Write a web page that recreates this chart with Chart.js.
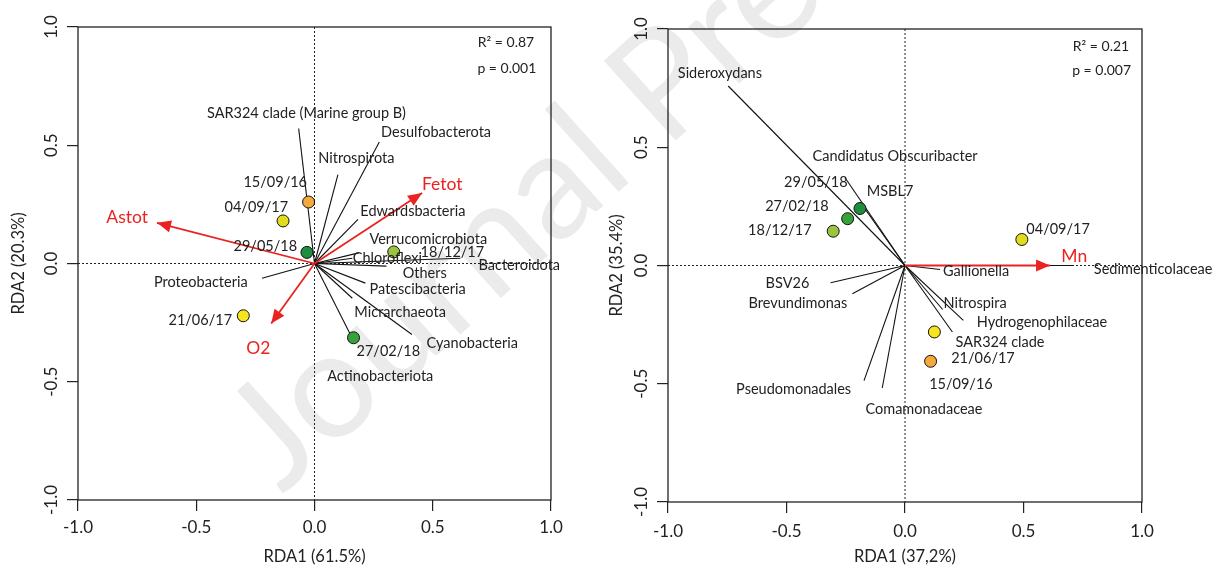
<!DOCTYPE html>
<html>
<head>
<meta charset="utf-8">
<script src="https://cdn.jsdelivr.net/npm/chart.js@4.4.1/dist/chart.umd.min.js"></script>
<style>
  html, body { margin: 0; padding: 0; background: #fff; }
  #wrap { position: relative; width: 1219px; height: 567px; overflow: hidden; }
  #mark {
    position: absolute; left: 282px; top: 362px;
    font: 150px Lato; line-height: 150px; color: #ebebeb;
    white-space: nowrap; transform-origin: 0 133px; transform: rotate(-42deg);
  }
  #left { position: absolute; left: 0; top: 0; }
  #right { position: absolute; left: 600px; top: 0; }
</style>
</head>
<body>
<div id="wrap">
  <div id="mark">Journal Pre-proof</div>
  <canvas id="left" width="600" height="567"></canvas>
  <canvas id="right" width="619" height="567"></canvas>
</div>
<script>
// ---- left panel (RDA1 61.5%, RDA2 20.3%) ----
const leftSites = ["15/09/16", "04/09/17", "29/05/18", "18/12/17", "21/06/17", "27/02/18"];
const leftSiteX = [-0.025, -0.133, -0.032, 0.335, -0.301, 0.165];
const leftSiteY = [0.26, 0.18, 0.047, 0.049, -0.221, -0.314];
const leftSiteLabelX = [-0.166, -0.246, -0.208, 0.583, -0.483, 0.312];
const leftSiteLabelY = [0.344, 0.238, 0.073, 0.048, -0.24, -0.371];

const leftTaxa = ["SAR324 clade (Marine group B)", "Desulfobacterota", "Nitrospirota", "Edwardsbacteria",
  "Verrucomicrobiota", "Chloroflexi", "Bacteroidota", "Others", "Proteobacteria", "Patescibacteria",
  "Micrarchaeota", "Cyanobacteria", "Actinobacteriota"];
const leftTaxaX = [-0.067, 0.274, 0.099, 0.184, 0.187, 0.16, 0.617, 0.304, -0.222, 0.215, 0.16, 0.412, 0.149];
const leftTaxaY = [0.571, 0.514, 0.376, 0.187, 0.045, 0.022, 0.022, -0.011, -0.062, -0.083, -0.147, -0.30, -0.295];
const leftTaxaLabelX = [-0.034, 0.514, 0.177, 0.416, 0.481, 0.308, 0.866, 0.466, -0.481, 0.436, 0.362, 0.667, 0.278];
const leftTaxaLabelY = [0.635, 0.556, 0.446, 0.222, 0.103, 0.022, -0.007, -0.041, -0.080, -0.109, -0.205, -0.336, -0.479];

const leftEnv = ["Astot", "Fetot", "O2"];
const leftEnvX = [-0.666, 0.455, -0.183];
const leftEnvY = [0.172, 0.298, -0.254];
const leftEnvLabelX = [-0.792, 0.540, -0.238];
const leftEnvLabelY = [0.194, 0.334, -0.357];

const leftStats = ["R\u00B2 = 0.87", "p = 0.001"];
const leftStatsX = [0.929, 0.938];
const leftStatsY = [0.935, 0.825];

// ---- right panel (RDA1 37,2%, RDA2 35.4%) ----
const rightSites = ["04/09/17", "29/05/18", "27/02/18", "18/12/17", "21/06/17", "15/09/16"];
const rightSiteX = [0.493, -0.19, -0.242, -0.303, 0.124, 0.108];
const rightSiteY = [0.11, 0.241, 0.198, 0.145, -0.281, -0.405];
const rightSiteLabelX = [0.646, -0.376, -0.456, -0.528, 0.329, 0.236];
const rightSiteLabelY = [0.152, 0.350, 0.249, 0.149, -0.391, -0.501];

const rightTaxa = ["Sideroxydans", "Candidatus Obscuribacter", "MSBL7", "Gallionella", "Sedimenticolaceae",
  "Nitrospira", "Hydrogenophilaceae", "SAR324 clade", "BSV26", "Brevundimonas", "Pseudomonadales", "Comamonadaceae"];
const rightTaxaX = [-0.746, -0.253, -0.182, 0.148, 0.71, 0.159, 0.246, 0.2, -0.314, -0.222, -0.173, -0.096];
const rightTaxaY = [0.759, 0.371, 0.258, -0.017, 0.0, -0.186, -0.232, -0.281, -0.073, -0.119, -0.487, -0.518];
const rightTaxaLabelX = [-0.781, -0.042, -0.063, 0.300, 1.047, 0.296, 0.578, 0.401, -0.496, -0.452, -0.470, 0.080];
const rightTaxaLabelY = [0.813, 0.463, 0.312, -0.025, -0.017, -0.162, -0.240, -0.323, -0.076, -0.162, -0.525, -0.610];

const rightEnv = ["Mn"];
const rightEnvX = [0.612];
const rightEnvY = [0.0];
const rightEnvLabelX = [0.714];
const rightEnvLabelY = [0.039];

const rightStats = ["R\u00B2 = 0.21", "p = 0.007"];
const rightStatsX = [0.946, 0.954];
const rightStatsY = [0.928, 0.826];

const tickValues = [-1, -0.5, 0, 0.5, 1];

// sampling date colours
const dateColor = {
  "15/09/16": "#f4a93c",
  "04/09/17": "#e2dc1f",
  "21/06/17": "#f6e41d",
  "18/12/17": "#9ac43b",
  "27/02/18": "#38a23a",
  "29/05/18": "#1f8e3c"
};

const INK = "#222";
const RED = "#ea2220";
const FONT = "Lato";

function pairs(xs, ys) {
  return xs.map((v, i) => ({x: v, y: ys[i]}));
}

function buildDatasets(p) {
  const ds = [];
  ds.push({
    data: pairs(p.siteX, p.siteY),
    pointRadius: 6,
    pointBackgroundColor: p.sites.map(s => dateColor[s]),
    pointBorderColor: "#111",
    pointBorderWidth: 1,
    showLine: false,
    order: 0
  });
  p.envX.forEach((v, i) => {
    ds.push({data: [{x: 0, y: 0}, {x: v, y: p.envY[i]}], showLine: true,
      borderColor: RED, borderWidth: 1.8, pointRadius: 0, order: 1});
  });
  p.taxaX.forEach((v, i) => {
    ds.push({data: [{x: 0, y: 0}, {x: v, y: p.taxaY[i]}], showLine: true,
      borderColor: "#111", borderWidth: 1.1, pointRadius: 0, order: 2});
  });
  return ds;
}

function texts(ctx, xs, ys, names, sx, sy, font, color, align) {
  ctx.font = font;
  ctx.fillStyle = color;
  ctx.textAlign = align || "center";
  ctx.textBaseline = "middle";
  names.forEach((n, i) => {
    ctx.fillText(n, sx.getPixelForValue(xs[i]), sy.getPixelForValue(ys[i]));
  });
}

const panels = {};

const overlay = {
  id: "overlay",
  beforeDatasetsDraw(chart) {
    const {ctx, chartArea: a, scales: {x, y}} = chart;
    const x0 = x.getPixelForValue(0), y0 = y.getPixelForValue(0);
    ctx.save();
    ctx.strokeStyle = INK;
    ctx.lineWidth = 1;
    ctx.setLineDash([2, 2]);
    ctx.beginPath();
    ctx.moveTo(a.left, y0); ctx.lineTo(a.right, y0);
    ctx.moveTo(x0, a.top); ctx.lineTo(x0, a.bottom);
    ctx.stroke();
    ctx.setLineDash([]);
    ctx.lineWidth = 1.3;
    ctx.strokeRect(a.left, a.top, a.right - a.left, a.bottom - a.top);
    ctx.restore();
  },
  afterDatasetsDraw(chart) {
    const p = panels[chart.canvas.id];
    const {ctx, scales: {x, y}} = chart;
    const ox = x.getPixelForValue(0), oy = y.getPixelForValue(0);
    ctx.save();
    // arrow heads
    ctx.fillStyle = RED;
    p.envX.forEach((v, i) => {
      const tx = x.getPixelForValue(v), ty = y.getPixelForValue(p.envY[i]);
      const ang = Math.atan2(ty - oy, tx - ox);
      const L = 14, W = 6;
      const bx = tx - L * Math.cos(ang), by = ty - L * Math.sin(ang);
      ctx.beginPath();
      ctx.moveTo(tx, ty);
      ctx.lineTo(bx - W * Math.sin(ang), by + W * Math.cos(ang));
      ctx.lineTo(bx + W * Math.sin(ang), by - W * Math.cos(ang));
      ctx.closePath();
      ctx.fill();
    });
    const small = "14.5px " + FONT;
    texts(ctx, p.taxaLabelX, p.taxaLabelY, p.taxa, x, y, small, INK);
    texts(ctx, p.siteLabelX, p.siteLabelY, p.sites, x, y, small, INK);
    texts(ctx, p.envLabelX, p.envLabelY, p.env, x, y, "17.5px " + FONT, RED);
    texts(ctx, p.statsX, p.statsY, p.stats, x, y, "14px " + FONT, INK, "right");
    ctx.restore();
  }
};

function makeChart(id, p, box) {
  panels[id] = p;
  return new Chart(document.getElementById(id), {
    type: "scatter",
    data: {datasets: buildDatasets(p)},
    plugins: [overlay],
    options: {
      responsive: false,
      animation: false,
      events: [],
      layout: {padding: {top: box.top, right: box.right, bottom: 0, left: 0}},
      plugins: {legend: {display: false}, tooltip: {enabled: false}},
      scales: {
        x: {
          type: "linear", min: -1, max: 1,
          afterBuildTicks: s => { s.ticks = tickValues.map(v => ({value: v})); },
          ticks: {callback: v => v.toFixed(1), font: {family: FONT, size: 17}, color: INK,
            padding: box.xPad, maxRotation: 0, autoSkip: false},
          grid: {drawOnChartArea: false, tickLength: 11, color: INK, lineWidth: 1.2},
          border: {display: false},
          title: {display: true, text: p.xTitle, color: INK, font: {family: FONT, size: 16.5},
            padding: {top: 0, bottom: 0}},
          afterFit: s => { s.height = box.xH; }
        },
        y: {
          type: "linear", min: -1, max: 1,
          afterBuildTicks: s => { s.ticks = tickValues.map(v => ({value: v})); },
          ticks: {callback: v => v.toFixed(1), font: {family: FONT, size: 17}, color: INK,
            padding: 0, minRotation: 90, maxRotation: 90, crossAlign: "center", autoSkip: false},
          grid: {drawOnChartArea: false, tickLength: 11, color: INK, lineWidth: 1.2},
          border: {display: false},
          title: {display: true, text: p.yTitle, color: INK, font: {family: FONT, size: 16.5},
            padding: {top: box.yTitlePad, bottom: 0}},
          afterFit: s => { s.width = box.yW; }
        }
      }
    }
  });
}

makeChart("left", {
  sites: leftSites, siteX: leftSiteX, siteY: leftSiteY, siteLabelX: leftSiteLabelX, siteLabelY: leftSiteLabelY,
  taxa: leftTaxa, taxaX: leftTaxaX, taxaY: leftTaxaY, taxaLabelX: leftTaxaLabelX, taxaLabelY: leftTaxaLabelY,
  env: leftEnv, envX: leftEnvX, envY: leftEnvY, envLabelX: leftEnvLabelX, envLabelY: leftEnvLabelY,
  stats: leftStats, statsX: leftStatsX, statsY: leftStatsY,
  xTitle: "RDA1 (61.5%)", yTitle: "RDA2 (20.3%)"
}, {top: 27, right: 49, xH: 67, yW: 78, xPad: 6, yTitlePad: 8.5});

makeChart("right", {
  sites: rightSites, siteX: rightSiteX, siteY: rightSiteY, siteLabelX: rightSiteLabelX, siteLabelY: rightSiteLabelY,
  taxa: rightTaxa, taxaX: rightTaxaX, taxaY: rightTaxaY, taxaLabelX: rightTaxaLabelX, taxaLabelY: rightTaxaLabelY,
  env: rightEnv, envX: rightEnvX, envY: rightEnvY, envLabelX: rightEnvLabelX, envLabelY: rightEnvLabelY,
  stats: rightStats, statsX: rightStatsX, statsY: rightStatsY,
  xTitle: "RDA1 (37,2%)", yTitle: "RDA2 (35.4%)"
}, {top: 29, right: 77, xH: 65, yW: 68, xPad: 8, yTitlePad: 7});
</script>
</body>
</html>
